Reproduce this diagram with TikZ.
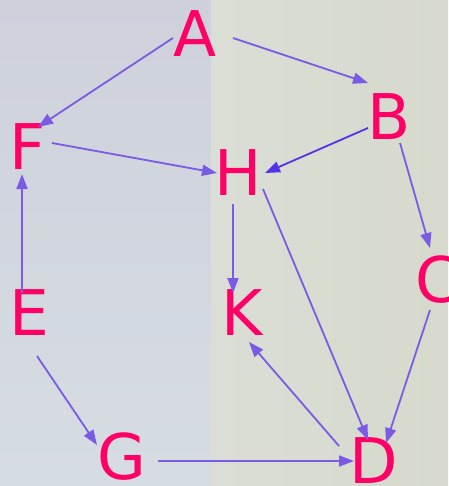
\documentclass[tikz,border=0pt]{standalone}
\usepackage{fontspec}
\setmainfont{DejaVu Sans}
\usetikzlibrary{arrows.meta,calc}
\definecolor{lettercol}{HTML}{FF0066}
\definecolor{edgecol}{HTML}{7B5BE3}
\definecolor{edgedark}{HTML}{5631E8}
\definecolor{bgleftA}{HTML}{CED1DB}
\definecolor{bgleftB}{HTML}{D6DDE2}
\definecolor{bgrightA}{HTML}{DADED6}
\definecolor{bgrightB}{HTML}{E1E5DB}
\definecolor{bgrightC}{HTML}{D6D9CB}
\tikzset{
  vertex/.style={text=lettercol, inner sep=0pt,
    font=\fontsize{63}{63}\selectfont},
  edge/.style={draw=edgecol, line width=1.8pt,
    -{Triangle[length=15pt,width=11pt]}},
  edgestrong/.style={edge, draw=edgedark, fill=edgedark},
}
\begin{document}
\begin{tikzpicture}[x=1pt,y=-1pt]
  % canvas and backdrop
  \useasboundingbox (0,0) rectangle (448,486);
  \shade[top color=bgleftA, bottom color=bgleftB] (0,0) rectangle (212,486);
  \shade[left color=bgrightA, middle color=bgrightB, right color=bgrightC]
    (211,0) rectangle (448,486);

  % vertices
  \node[vertex] (A) at (195,34) {A};
  \node[vertex] (B) at (389,117) {B};
  \node[vertex] (C) at (437,280) {C};
  \node[vertex] (D) at (374,461) {D};
  \node[vertex] (E) at (29,313) {E};
  \node[vertex] (F) at (28,147) {F};
  \node[vertex] (G) at (122,457) {G};
  \node[vertex] (H) at (238,173) {H};
  \node[vertex] (K) at (242,313) {K};

  % directed edges
  \draw[edge] ($(A)+(-22,4)$) -- ($(F)+(10,-20)$);
  \draw[edge] ($(A)+(38,4)$) -- ($(B)+(-21,-34)$);
  \draw[edgestrong] ($(B)+(-21,11)$) -- ($(H)+(27,0)$);
  \draw[edge] ($(B)+(11,26)$) -- ($(C)+(-7,-32)$);
  \draw[edge] ($(F)+(24,-4)$) -- ($(H)+(-21,0)$);
  \draw[edge] ($(E)+(-7,-20)$) -- ($(F)+(-6,27)$);
  \draw[edge] ($(H)+(-5,31)$) -- ($(K)+(-9,-20)$);
  \draw[edge] ($(H)+(25,16)$) -- ($(D)+(-6,-21)$);
  \draw[edge] ($(C)+(-7,30)$) -- ($(D)+(12,-18)$);
  \draw[edge] ($(D)+(-35,-15)$) -- ($(K)+(7,29)$);
  \draw[edge] ($(G)+(36,4)$) -- ($(D)+(-20,0)$);
  \draw[edge] ($(E)+(8,43)$) -- ($(G)+(-25,-12)$);
\end{tikzpicture}
\end{document}
